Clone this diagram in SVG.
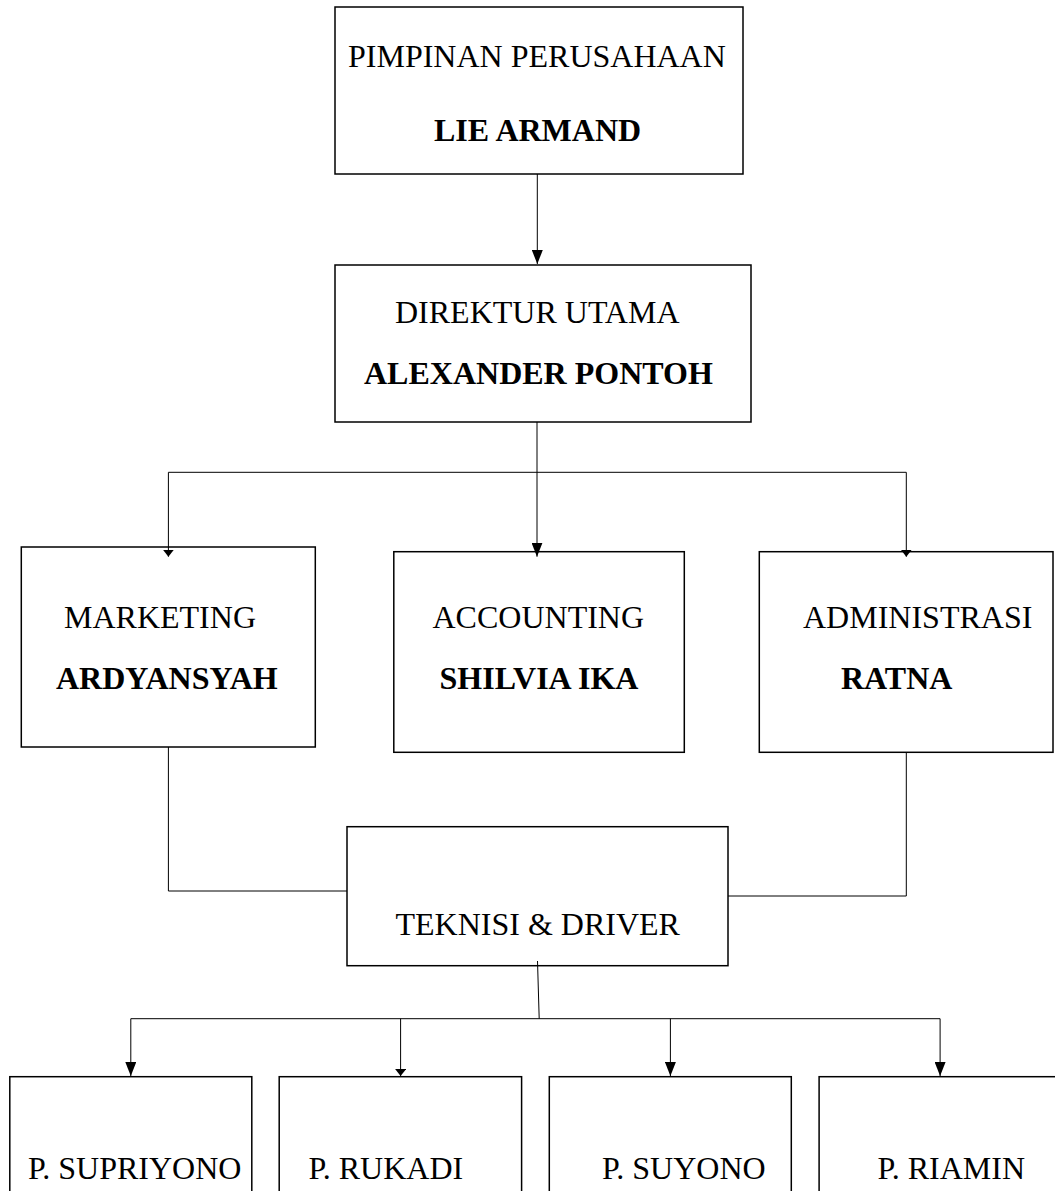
<svg xmlns="http://www.w3.org/2000/svg" width="1055" height="1191" viewBox="0 0 1055 1191">
<style>
.box{fill:#fff;stroke:#000;stroke-width:1.5}
.t{font-family:"Liberation Serif","Times New Roman",serif;font-size:32px;fill:#000}
.b{font-weight:bold}
.c{fill:none;stroke:#000;stroke-width:1}
</style>
<defs>
<marker id="big" markerUnits="userSpaceOnUse" markerWidth="14" markerHeight="11" refX="14" refY="5.5" orient="auto">
<path d="M0,0 L14,5.5 L0,11 z" fill="#000"/>
</marker>
<marker id="small" markerUnits="userSpaceOnUse" markerWidth="7" markerHeight="11" refX="7" refY="5.5" orient="auto">
<path d="M0,0 L7,5.5 L0,11 z" fill="#000"/>
</marker>
</defs>
<rect width="1055" height="1191" fill="#fff"/>
<g id="pimpinan">
<rect class="box" x="335" y="7" width="408" height="167"/>
<text class="t" x="348" y="67">PIMPINAN PERUSAHAAN</text>
<text class="t b" x="434" y="141">LIE ARMAND</text>
</g>
<g id="direktur">
<rect class="box" x="335" y="265" width="416" height="157"/>
<text class="t" x="395" y="323">DIREKTUR UTAMA</text>
<text class="t b" x="364" y="384">ALEXANDER PONTOH</text>
</g>
<g id="marketing">
<rect class="box" x="21.3" y="547" width="294" height="200"/>
<text class="t" x="64" y="628">MARKETING</text>
<text class="t b" x="56" y="689">ARDYANSYAH</text>
</g>
<g id="accounting">
<rect class="box" x="393.8" y="551.7" width="290.5" height="200.6"/>
<text class="t" x="432.5" y="628">ACCOUNTING</text>
<text class="t b" x="439.5" y="689">SHILVIA IKA</text>
</g>
<g id="administrasi">
<rect class="box" x="759.3" y="551.7" width="293.7" height="200.6"/>
<text class="t" x="803" y="628">ADMINISTRASI</text>
<text class="t b" x="841" y="689">RATNA</text>
</g>
<g id="teknisi">
<rect class="box" x="347" y="826.7" width="381" height="139"/>
<text class="t" x="395.5" y="935">TEKNISI &amp; DRIVER</text>
</g>
<g id="supriyono">
<rect class="box" x="9.8" y="1076.7" width="242" height="130"/>
<text class="t" x="28" y="1179">P. SUPRIYONO</text>
</g>
<g id="rukadi">
<rect class="box" x="279.2" y="1076.7" width="242.4" height="130"/>
<text class="t" x="308.5" y="1179">P. RUKADI</text>
</g>
<g id="suyono">
<rect class="box" x="549.3" y="1076.7" width="242" height="130"/>
<text class="t" x="602" y="1179">P. SUYONO</text>
</g>
<g id="riamin">
<rect class="box" x="819.1" y="1076.7" width="242" height="130"/>
<text class="t" x="877.5" y="1179">P. RIAMIN</text>
</g>
<g id="connectors">
<line class="c" x1="537.3" y1="174" x2="537.3" y2="264" marker-end="url(#big)"/>
<line class="c" x1="537" y1="422" x2="537" y2="556.7" marker-end="url(#big)"/>
<line class="c" x1="168.4" y1="472.3" x2="906.3" y2="472.3"/>
<line class="c" x1="168.4" y1="472.3" x2="168.4" y2="556.7" marker-end="url(#small)"/>
<line class="c" x1="906.3" y1="472.3" x2="906.3" y2="556.7" marker-end="url(#small)"/>
<polyline class="c" points="168.4,747 168.4,891 347,891"/>
<polyline class="c" points="906.3,752.3 906.3,896 728,896"/>
<line class="c" x1="537.5" y1="961" x2="539.2" y2="1018.7"/>
<line class="c" x1="130.8" y1="1018.7" x2="940.1" y2="1018.7"/>
<line class="c" x1="130.8" y1="1018.7" x2="130.8" y2="1076" marker-end="url(#big)"/>
<line class="c" x1="400.6" y1="1018.7" x2="400.6" y2="1076" marker-end="url(#small)"/>
<line class="c" x1="670.4" y1="1018.7" x2="670.4" y2="1076" marker-end="url(#big)"/>
<line class="c" x1="940.1" y1="1018.7" x2="940.1" y2="1076" marker-end="url(#big)"/>
</g>
</svg>
